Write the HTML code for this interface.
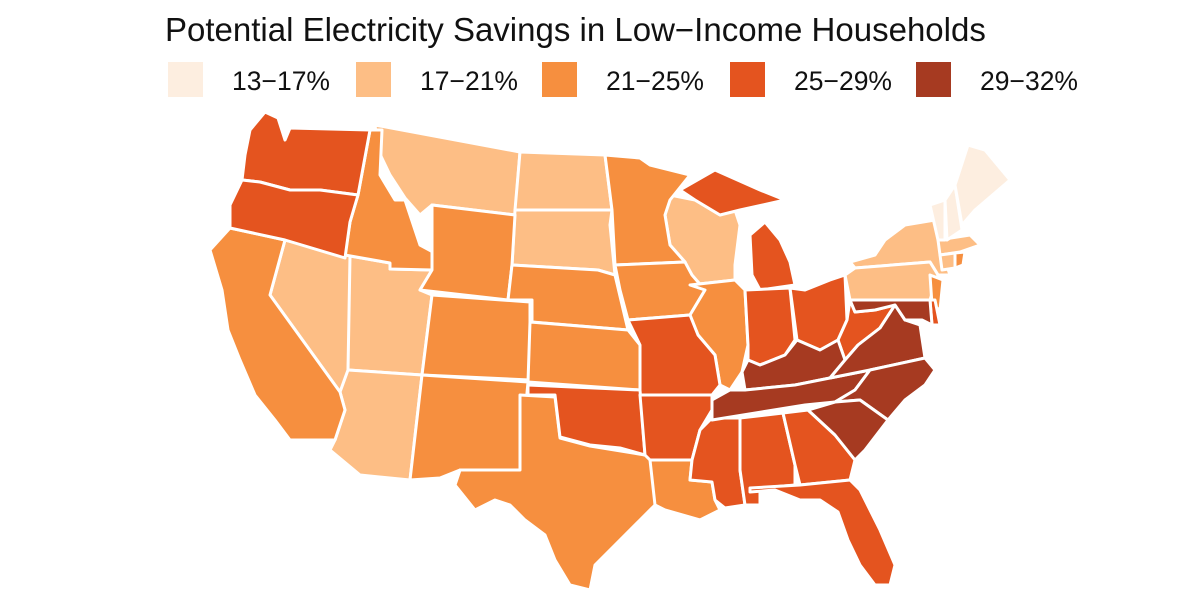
<!DOCTYPE html>
<html><head><meta charset="utf-8"><style>
html,body{margin:0;padding:0;background:#fff;width:1200px;height:600px;overflow:hidden}
svg{display:block}
text{font-family:"Liberation Sans",sans-serif;fill:#111}
</style></head><body>
<svg width="1200" height="600" viewBox="0 0 1200 600">
<text x="165" y="41" font-size="33">Potential Electricity Savings in Low−Income Households</text>
<g font-size="26.5">
<rect x="168" y="62" width="35" height="35" fill="#fdeee0"/><text x="232" y="90">13−17%</text>
<rect x="356" y="62" width="35" height="35" fill="#fdbe85"/><text x="420" y="90">17−21%</text>
<rect x="542" y="62" width="35" height="35" fill="#f68f3f"/><text x="606" y="90">21−25%</text>
<rect x="730" y="62" width="35" height="35" fill="#e4541f"/><text x="794" y="90">25−29%</text>
<rect x="916" y="62" width="35" height="35" fill="#a63a21"/><text x="980" y="90">29−32%</text>
</g>
<g stroke="#fff" stroke-width="3" stroke-linejoin="round">
<g fill="#fdbe85">
<polygon points="375,125 520,152 515,215 432,205 420,215 405,198 390,175 378,150"/>
<polygon points="520,152 605,155 612,210 515,210"/>
<polygon points="515,210 612,210 610,225 615,275 598,270 512,265"/>
<polygon points="285,240 352,256 348,375 340,392 270,295"/>
<polygon points="350,256 390,263 390,269 432,270 420,290 432,295 422,375 348,370"/>
<polygon points="348,370 422,375 410,480 360,475 330,450 335,440 345,410 340,392"/>
<polygon points="670,195 695,200 720,215 735,210 740,225 735,265 735,280 690,285 685,262 670,245 665,215"/>
<polygon points="850,262 875,255 885,240 905,225 935,220 945,260 950,275 938,275 930,262 855,268"/>
<polygon points="845,275 855,268 930,262 938,275 930,300 850,300"/>
<polygon points="938,240 970,235 980,245 960,252 940,255"/>
<polygon points="940,255 955,253 955,268 942,270"/>
</g>
<g fill="#fdeee0">
<polygon points="930,205 945,200 945,240 938,240"/>
<polygon points="945,200 955,185 962,230 947,240"/>
<polygon points="955,185 968,145 985,150 1010,180 975,210 962,225"/>
</g>
<g fill="#f68f3f">
<polygon points="370,130 382,130 380,175 395,200 405,200 420,245 433,252 432,270 390,269 390,263 345,255 350,222 358,195"/>
<polygon points="230,228 285,240 270,295 340,392 345,410 335,440 290,440 275,420 255,395 240,360 228,330 222,290 210,250"/>
<polygon points="432,205 515,215 512,265 508,300 420,290 432,270"/>
<polygon points="432,295 530,302 530,380 422,375"/>
<polygon points="512,265 598,270 615,275 628,330 532,322 532,300 508,300"/>
<polygon points="530,322 628,330 640,345 640,390 528,382"/>
<polygon points="422,375 528,382 520,470 460,470 440,478 410,480"/>
<polygon points="520,395 555,397 560,438 590,446 645,455 655,462 655,505 640,520 615,545 595,565 590,590 570,585 555,560 545,535 525,520 510,505 495,500 475,510 455,485 460,470 520,470"/>
<polygon points="605,155 640,158 650,165 690,175 670,200 665,215 670,245 685,262 615,265 612,210"/>
<polygon points="615,265 685,262 692,275 705,290 690,315 628,320 620,290"/>
<polygon points="690,285 735,280 745,290 748,345 742,372 730,390 720,385 715,355 698,335 690,315 705,290"/>
<polygon points="650,460 692,460 690,480 712,482 715,500 720,510 700,520 665,510 655,505"/>
<polygon points="930,275 943,280 940,310 932,305"/>
<polygon points="955,253 965,252 963,265 955,268"/>
</g>
<g fill="#e4541f">
<polygon points="265,112 278,118 285,140 290,128 370,130 358,195 320,190 290,190 260,182 242,180 245,155 250,130"/>
<polygon points="242,180 260,182 290,190 320,190 358,195 350,222 345,258 285,240 230,228 230,205"/>
<polygon points="628,320 690,315 698,335 715,355 720,385 712,395 700,400 640,395 640,345"/>
<polygon points="528,385 640,390 645,455 620,448 590,445 560,437 555,395 528,395"/>
<polygon points="640,395 712,395 712,410 700,430 692,460 650,460 645,455"/>
<polygon points="750,235 765,222 780,240 790,262 795,285 760,290 752,275"/>
<polygon points="680,190 715,170 760,190 785,200 740,210 720,215 695,200"/>
<polygon points="745,290 790,288 795,340 785,355 760,365 748,360 748,345"/>
<polygon points="790,288 805,290 830,280 845,275 847,320 838,340 820,350 797,340"/>
<polygon points="838,340 847,320 850,300 855,312 875,310 895,305 880,328 858,345 845,360"/>
<polygon points="712,418 740,418 740,470 745,505 725,508 715,500 712,482 690,480 692,460 700,430"/>
<polygon points="740,418 783,413 795,465 795,485 760,488 760,505 745,505 740,470"/>
<polygon points="783,413 808,410 835,435 855,460 850,480 800,485 795,465"/>
<polygon points="750,488 800,485 850,480 860,490 880,530 895,565 890,585 875,585 860,565 848,540 838,512 820,500 800,500 775,490 750,492"/>
<polygon points="930,300 935,300 940,325 932,325"/>
</g>
<g fill="#a63a21">
<polygon points="742,372 748,360 760,365 785,355 797,340 820,350 838,340 845,360 830,378 795,385 745,390"/>
<polygon points="730,390 745,390 795,385 830,378 870,370 855,390 835,402 805,405 712,420 712,400"/>
<polygon points="845,360 858,345 880,328 895,305 905,320 920,325 925,358 870,370 830,378"/>
<polygon points="835,402 855,390 870,370 925,358 935,370 925,385 905,400 888,420 860,400"/>
<polygon points="808,410 835,402 860,400 888,420 865,450 855,460 835,435"/>
<polygon points="850,300 930,300 932,325 922,320 905,320 895,305 875,310 855,312"/>
</g>
</g>
</svg>
</body></html>
